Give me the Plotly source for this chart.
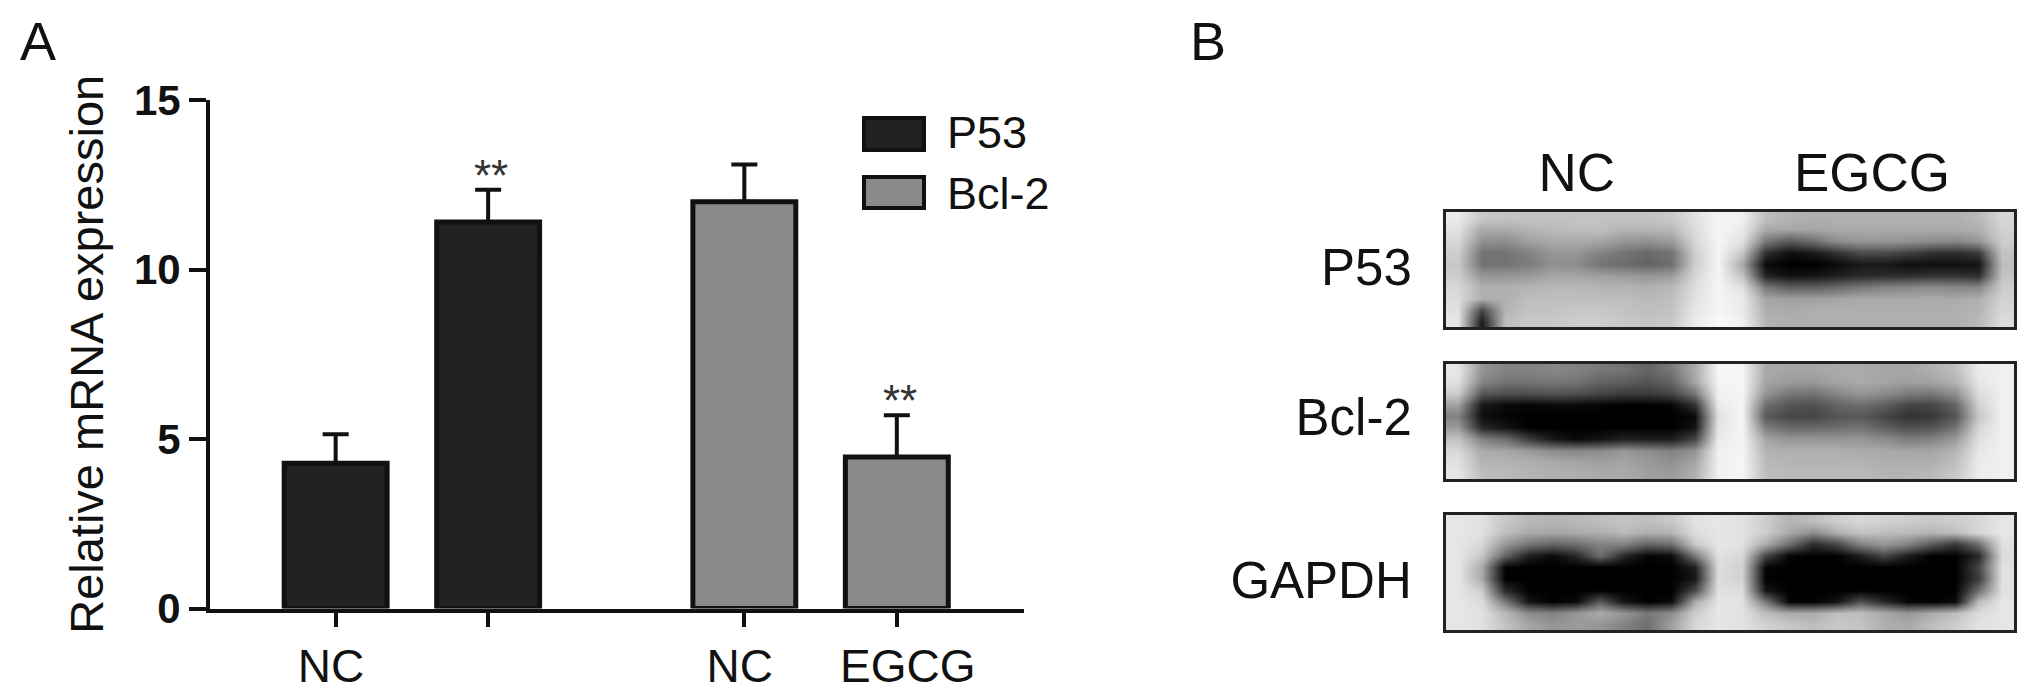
import plotly.graph_objects as go

W, H = 2031, 698
FONT = "Liberation Sans, Arial, sans-serif"

# Panel A data
positions_p53 = [0, 1]
positions_bcl2 = [2.68, 3.68]
p53_values = [4.29, 11.4]
p53_err = [0.85, 0.95]
bcl2_values = [12.0, 4.47]
bcl2_err = [1.1, 1.23]
x_ticks = [0, 1, 2.68, 3.68]
x_labels = ["NC\u2009", "", "NC\u2009", "\u00a0\u2009EGCG"]
y_ticks = [0, 5, 10, 15]
star_x = [1.02, 3.70]
star_y = [12.35, 5.7]

# Panel B: blot labels
lane_ticks = [5.03, 17.5]
lane_labels = ["NC", "EGCG"]

# Panel B: grey levels read from the blots (10 rows x 24 lanes columns)
blot_p53 = [
    [235,200,195,195,195,195,195,195,195,200,225,245,240,190,180,175,175,175,175,175,175,175,185,215],
    [225,170,170,180,185,190,190,180,180,185,220,245,235,170,165,165,170,170,170,170,170,170,175,210],
    [215,145,140,160,170,170,165,150,145,155,215,245,225,120,90,110,140,150,150,145,140,135,150,205],
    [205,115,115,130,150,150,130,115,105,115,205,245,200,50,15,25,50,75,75,65,50,45,60,195],
    [200,115,115,125,145,140,115,110,100,110,205,245,170,10,0,0,10,25,25,15,15,15,20,190],
    [205,150,150,155,165,165,160,155,150,155,215,245,195,35,15,20,30,40,45,45,50,50,45,195],
    [215,175,175,180,185,185,180,180,175,185,220,245,225,120,95,95,105,120,130,135,140,135,135,205],
    [220,175,175,190,190,190,190,190,185,190,225,245,235,165,160,160,165,170,170,170,170,170,175,210],
    [225,70,180,195,195,200,200,195,190,195,230,245,235,175,170,175,175,175,175,175,175,175,180,215],
    [230,25,190,200,200,205,205,200,195,200,235,250,240,180,175,175,175,175,175,175,175,175,185,220],
]
blot_bcl2 = [
    [230,150,130,130,135,130,120,115,100,120,170,245,245,170,165,165,170,170,165,165,175,190,235,240],
    [225,135,115,115,120,115,100,95,85,100,165,245,245,165,155,155,165,170,165,160,165,180,230,240],
    [205,90,80,80,85,80,70,60,60,70,120,240,245,150,120,115,135,150,140,125,120,145,220,240],
    [160,25,10,5,10,10,5,0,0,5,50,235,245,110,85,80,100,110,95,70,70,100,210,240],
    [130,15,5,0,0,0,0,0,0,0,10,225,245,90,70,70,85,90,70,50,55,85,200,240],
    [155,40,20,0,0,0,0,0,0,0,20,230,245,125,105,105,110,115,95,80,85,115,215,240],
    [195,130,110,60,25,10,20,35,30,30,70,235,245,165,150,150,150,150,140,125,130,155,225,240],
    [215,170,165,155,140,135,140,150,140,130,145,240,245,180,175,175,175,170,170,165,165,180,230,240],
    [225,180,180,175,170,165,160,165,155,145,165,240,245,185,180,180,180,180,175,175,175,190,235,240],
    [230,190,185,180,175,175,170,170,160,155,175,240,245,190,185,185,185,185,180,180,185,200,235,240],
]
blot_gapdh = [
    [230,225,200,185,180,185,190,195,190,200,225,230,225,205,180,190,205,215,210,205,200,205,215,230],
    [230,225,190,170,165,170,175,185,175,180,220,230,225,205,170,140,175,195,190,185,180,190,215,230],
    [230,215,150,115,100,110,130,130,100,110,200,230,225,170,110,45,70,130,150,130,90,55,110,225],
    [230,200,100,30,10,40,110,40,5,10,120,225,215,70,5,0,0,30,70,30,0,0,40,220],
    [230,170,5,0,0,0,0,0,0,0,30,220,210,5,0,0,0,0,0,0,0,0,70,225],
    [230,170,0,0,0,0,0,0,0,0,20,220,210,0,0,0,0,0,0,0,0,0,60,225],
    [230,205,40,0,0,0,0,0,0,0,70,225,220,20,0,0,0,0,0,0,0,0,110,225],
    [230,220,120,20,0,10,90,20,0,10,170,230,225,120,5,0,20,80,40,5,0,10,190,230],
    [230,225,185,140,130,150,170,150,120,140,205,230,225,190,170,170,190,190,170,150,170,190,220,230],
    [230,225,195,165,150,155,150,130,110,160,215,230,225,210,200,190,200,195,175,170,190,205,225,230],
]
blots = [("P53", blot_p53, 4.28, 212, 327), ("Bcl-2", blot_bcl2, 4.1, 364, 479), ("GAPDH", blot_gapdh, 5.2, 515, 630)]


def xdom(a, b):
    return [a / W, b / W]


def ydom(top, bottom):
    return [1 - bottom / H, 1 - top / H]


fig = go.Figure()
fig.add_bar(x=positions_p53, y=p53_values, name="P53", width=0.675,
            marker=dict(color="#222222", line=dict(color="#111111", width=5)),
            error_y=dict(type="data", symmetric=False, array=p53_err, arrayminus=[0, 0],
                         color="#111111", thickness=4, width=13),
            showlegend=False)
fig.add_bar(x=positions_bcl2, y=bcl2_values, name="Bcl-2", width=0.675,
            marker=dict(color="#8a8a8a", line=dict(color="#111111", width=5)),
            error_y=dict(type="data", symmetric=False, array=bcl2_err, arrayminus=[0, 0],
                         color="#111111", thickness=4, width=13),
            showlegend=False)

layout = dict(
    template="none",
    width=W, height=H, autosize=False, margin=dict(l=0, r=0, t=0, b=0, pad=0),
    paper_bgcolor="white", plot_bgcolor="white", barmode="overlay",
    font=dict(family=FONT, color="#111111"),
    xaxis=dict(domain=xdom(210, 1024), range=[-0.824, 4.514], tickmode="array", tickvals=x_ticks,
               ticktext=x_labels, ticks="outside", ticklen=14, tickwidth=4, tickcolor="#111111",
               showline=True, linewidth=4, linecolor="#111111", showgrid=False, zeroline=False, automargin=False,
               tickfont=dict(size=46, color="#111111")),
    yaxis=dict(domain=ydom(100, 608.6), range=[0, 15], tickmode="array", tickvals=y_ticks,
               ticks="outside", ticklen=17, tickwidth=4, tickcolor="#111111",
               showline=True, linewidth=4, linecolor="#111111", showgrid=False, zeroline=False, automargin=False,
               tickfont=dict(size=42, family=FONT, weight="bold", color="#111111"),
               title=dict(text="Relative mRNA expression", font=dict(size=47, color="#111111"))),
)

annotations = []
for sx, sy in zip(star_x, star_y):
    annotations.append(dict(x=sx, y=sy, xref="x", yref="y", text="**", showarrow=False, yanchor="bottom",
                            font=dict(size=44, color="#333333"), yshift=-12))
for txt, px in (("A", 38), ("B", 1208)):
    annotations.append(dict(x=px / W, y=1 - 41 / H, xref="paper", yref="paper", text=txt, showarrow=False,
                            xanchor="center", yanchor="middle", font=dict(size=54, color="#111111")))

shapes = []
for name, fill, top, bottom, ty in (("P53", "#222222", 118, 150, 133), ("Bcl-2", "#8a8a8a", 177, 208, 193)):
    shapes.append(dict(type="rect", xref="paper", yref="paper", x0=864 / W, x1=924 / W,
                       y0=1 - bottom / H, y1=1 - top / H, fillcolor=fill, line=dict(color="#111111", width=4)))
    annotations.append(dict(x=945 / W, y=1 - ty / H, xref="paper", yref="paper", text=name, showarrow=False,
                            xanchor="left", yanchor="middle", font=dict(size=45, color="#111111")))

for i, (name, z, tick, top, bottom) in enumerate(blots):
    n = i + 2
    fig.add_heatmap(z=z, xaxis=f"x{n}", yaxis=f"y{n}", zmin=0, zmax=255, showscale=False,
                    zsmooth="best", colorscale=[[0, "#000000"], [1, "#ffffff"]], name=name)
    x_cfg = dict(domain=xdom(1446, 2014), range=[-0.5, 23.5], anchor=f"y{n}", mirror=True, showline=True,
                 linewidth=3, linecolor="#222222", showgrid=False, zeroline=False, ticks="", showticklabels=False,
                 automargin=False)
    if i == 0:
        x_cfg.update(side="top", tickmode="array", tickvals=lane_ticks, ticktext=lane_labels, showticklabels=True,
                     ticks="", ticklabelstandoff=-3, tickfont=dict(size=53, color="#111111"))
    layout[f"xaxis{n}"] = x_cfg
    layout[f"yaxis{n}"] = dict(domain=ydom(top, bottom), range=[9.5, -0.5], anchor=f"x{n}", mirror=True, showline=True,
                               linewidth=3, linecolor="#222222", showgrid=False, zeroline=False, automargin=False,
                               tickmode="array", tickvals=[tick], ticktext=[name], ticks="outside", ticklen=21,
                               tickcolor="rgba(0,0,0,0)", tickfont=dict(size=51, color="#111111"))

layout["annotations"] = annotations
layout["shapes"] = shapes
fig.update_layout(**layout)
fig.write_html("out.html", post_script="document.body.style.margin='0';", config=dict(displayModeBar=False))
